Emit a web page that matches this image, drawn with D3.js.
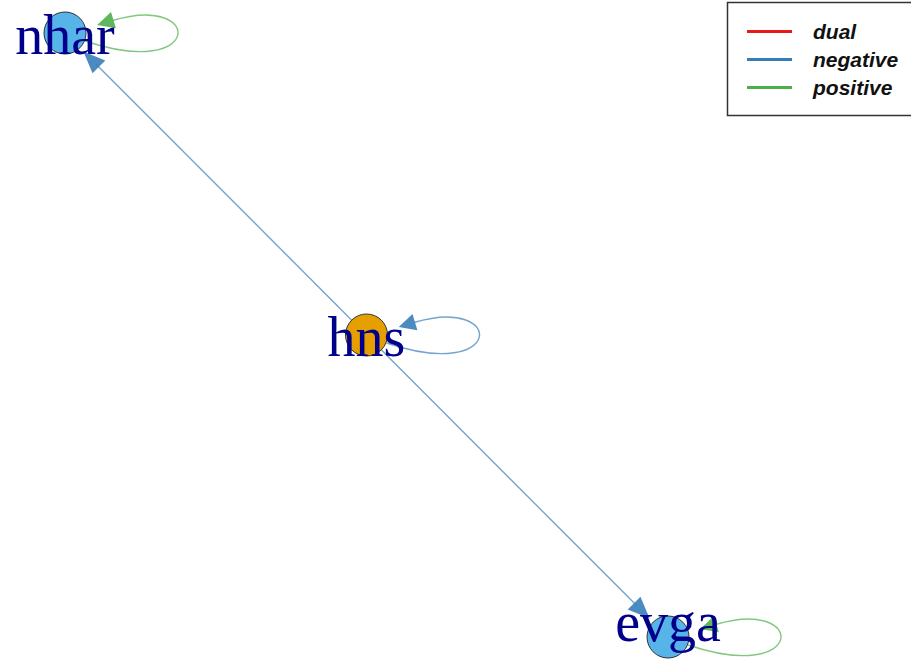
<!DOCTYPE html>
<html>
<head>
<meta charset="utf-8">
<script src="https://cdn.jsdelivr.net/npm/d3@7"></script>
<style>
html,body{margin:0;padding:0;background:#fff;}
svg{display:block;}
</style>
</head>
<body>
<svg id="chart" width="911" height="662"></svg>
<script>
// ---- data ----
const nodeNames = ["nhar", "hns", "evga"];
const nodeLayoutX = [-1, 0, 1];
const nodeLayoutY = [1, 0, -1];
const nodeKind = ["target", "regulator", "target"];
const edgeFrom = ["hns", "hns", "nhar", "hns", "evga"];
const edgeTo   = ["nhar", "evga", "nhar", "hns", "evga"];
const edgeSign = ["negative", "negative", "positive", "negative", "positive"];
const legendLabels = ["dual", "negative", "positive"];

// ---- styles ----
const W = 911, H = 662;
const signColor = d3.scaleOrdinal().domain(legendLabels).range(["#E41A1C", "#377EB8", "#4DAF4A"]);
const kindColor = d3.scaleOrdinal().domain(["target", "regulator"]).range(["#56B4E9", "#E69F00"]);

const svg = d3.select("#chart");
const x = d3.scaleLinear().domain([-1, 1]).range([65, 668]);
const y = d3.scaleLinear().domain([-1, 1]).range([637, 33]);

const nodes = nodeNames.map((n, i) => ({name: n, x: x(nodeLayoutX[i]), y: y(nodeLayoutY[i]), kind: nodeKind[i]}));
const byName = Object.fromEntries(nodes.map(n => [n.name, n]));
const edges = edgeFrom.map((f, i) => ({source: byName[f], target: byName[edgeTo[i]], sign: edgeSign[i]}));

const R = 21;
const gEdges = svg.append("g");

function arrowHead(g, tipX, tipY, ux, uy, len, hw, color) {
  const bx = tipX - ux * len, by = tipY - uy * len;
  const px = -uy, py = ux;
  g.append("path")
    .attr("d", `M${tipX},${tipY}L${bx + px * hw},${by + py * hw}L${bx - px * hw},${by - py * hw}Z`)
    .attr("fill", color).attr("fill-opacity", 0.9).attr("stroke", "none");
}

edges.forEach(e => {
  const c = signColor(e.sign);
  if (e.source === e.target) {
    const cx = e.source.x, cy = e.source.y;
    const p0 = [cx + 20, cy + 8], p1 = [cx + 139, cy + 48], p2 = [cx + 139, cy - 40], p3 = [cx + 47.5, cy - 12.5];
    gEdges.append("path")
      .attr("d", `M${p0}C${p1} ${p2} ${p3}`)
      .attr("fill", "none").attr("stroke", c).attr("stroke-opacity", 0.7).attr("stroke-width", 1.4);
    let ux = p3[0] - p2[0], uy = p3[1] - p2[1];
    const L = Math.hypot(ux, uy); ux /= L; uy /= L;
    arrowHead(gEdges, p3[0] + ux * 16, p3[1] + uy * 16, ux, uy, 17, 8.5, c);
  } else {
    const sx = e.source.x, sy = e.source.y, tx = e.target.x, ty = e.target.y;
    let ux = tx - sx, uy = ty - sy;
    const L = Math.hypot(ux, uy); ux /= L; uy /= L;
    const tipX = tx - ux * 26, tipY = ty - uy * 26;
    gEdges.append("line")
      .attr("x1", sx).attr("y1", sy).attr("x2", tipX - ux * 18).attr("y2", tipY - uy * 18)
      .attr("stroke", c).attr("stroke-opacity", 0.7).attr("stroke-width", 1.4);
    arrowHead(gEdges, tipX, tipY, ux, uy, 22, 9, c);
  }
});

svg.append("g").selectAll("circle").data(nodes).join("circle")
  .attr("cx", d => d.x).attr("cy", d => d.y).attr("r", R)
  .attr("fill", d => kindColor(d.kind)).attr("stroke", "#333").attr("stroke-width", 1);

// labels, kept inside the drawing area
svg.append("g").selectAll("text").data(nodes).join("text")
  .attr("x", d => d.x).attr("y", d => Math.min(d.y + 21, H - 21))
  .attr("text-anchor", "middle")
  .attr("font-family", "'Liberation Serif', 'Times New Roman', serif")
  .attr("font-size", 56).attr("fill", "#00008B")
  .text(d => d.name);

// legend
const lg = svg.append("g");
lg.append("rect").attr("x", 727.5).attr("y", 2.5).attr("width", 200).attr("height", 113)
  .attr("fill", "#fff").attr("stroke", "#333").attr("stroke-width", 1.5);
const ly = d3.scalePoint().domain(legendLabels).range([31.5, 87.5]);
legendLabels.forEach(l => {
  lg.append("line").attr("x1", 747).attr("x2", 792).attr("y1", ly(l)).attr("y2", ly(l))
    .attr("stroke", signColor(l)).attr("stroke-width", 3);
  lg.append("text").attr("x", 813).attr("y", ly(l) + 7)
    .attr("font-family", "'Liberation Sans', Arial, sans-serif")
    .attr("font-weight", "bold").attr("font-style", "italic").attr("font-size", 21)
    .attr("fill", "#111").text(l);
});
</script>
</body>
</html>
